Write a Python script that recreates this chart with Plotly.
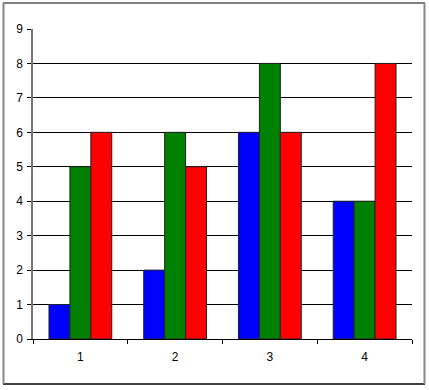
import plotly.graph_objects as go

categories = ["1", "2", "3", "4"]
series1 = [1, 2, 6, 4]
series2 = [5, 6, 8, 4]
series3 = [6, 5, 6, 8]
colors = ["#0000FF", "#008000", "#FF0000"]
y_ticks = list(range(0, 10))

W, H = 429, 390
L, R, T, B = 33, 17, 29, 51
pw, ph = W - L - R, H - T - B

fig = go.Figure()
for vals, col in zip([series1, series2, series3], colors):
    fig.add_trace(go.Bar(x=categories, y=vals, marker=dict(color=col, line=dict(color="#222222", width=1)),
                         showlegend=False))

def px(x):
    return (x - L) / pw

def py(y):
    return (H - B - y) / ph

shapes = [
    dict(type="line", xref="paper", yref="paper", x0=px(3), x1=px(425), y0=py(3), y1=py(3), line=dict(color="black", width=1)),
    dict(type="line", xref="paper", yref="paper", x0=px(3), x1=px(425), y0=py(384), y1=py(384), line=dict(color="black", width=1.5)),
    dict(type="line", xref="paper", yref="paper", x0=px(3.5), x1=px(3.5), y0=py(3), y1=py(384), line=dict(color="#888888", width=2)),
    dict(type="line", xref="paper", yref="paper", x0=px(424.5), x1=px(424.5), y0=py(3), y1=py(384), line=dict(color="#888888", width=2)),
]

fig.update_layout(
    width=W, height=H,
    margin=dict(l=L, r=R, t=T, b=B),
    paper_bgcolor="white", plot_bgcolor="white",
    barmode="group", bargap=0.337, bargroupgap=0,
    font=dict(family="Liberation Sans, Arial, sans-serif", size=12, color="black"),
    shapes=shapes,
)
fig.update_xaxes(type="category", range=[-0.5, 3.5], showgrid=False, showline=True, linecolor="black", linewidth=1,
                 ticks="outside", tickson="boundaries", ticklen=4, tickcolor="black", ticklabelstandoff=7,
                 zeroline=False)
fig.update_yaxes(range=[0, 9], tickvals=y_ticks, showgrid=True, gridcolor="black", gridwidth=1,
                 showline=True, linecolor="#777777", linewidth=1.5, ticks="outside", ticklen=4, tickcolor="black",
                 zeroline=False, ticklabelstandoff=2)

fig.write_html("out.html")
